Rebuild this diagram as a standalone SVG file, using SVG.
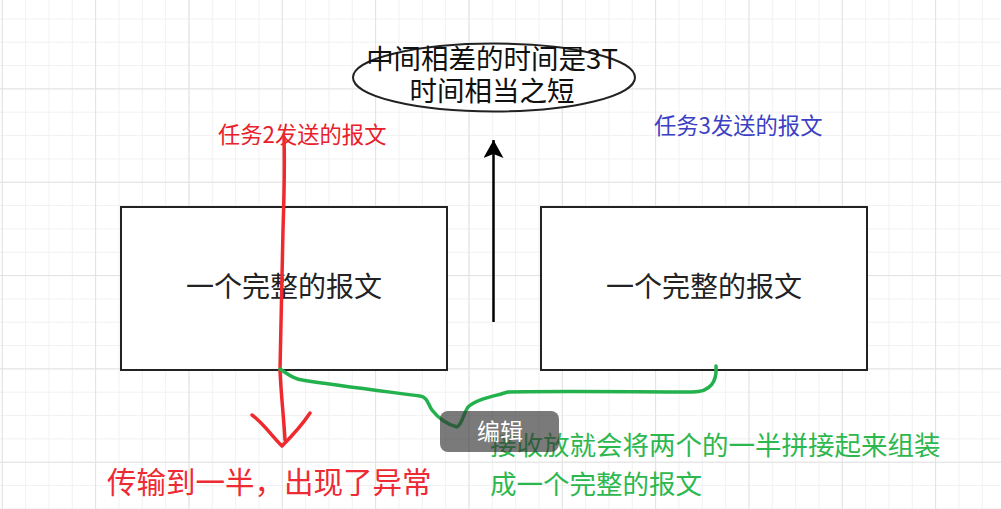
<svg xmlns="http://www.w3.org/2000/svg" width="1001" height="509" viewBox="0 0 1001 509">
<defs>
<pattern id="minor" width="23.333" height="23.333" patternUnits="userSpaceOnUse" x="1.8" y="18.4">
<path d="M0 0H23.333M0 0V23.333" fill="none" stroke="#f1f1f1" stroke-width="2"/>
</pattern>
<pattern id="major" width="93.333" height="93.333" patternUnits="userSpaceOnUse" x="1.8" y="88.4">
<path d="M0 0H93.333M0 0V93.333" fill="none" stroke="#e2e2e2" stroke-width="2"/>
</pattern>
<marker id="ah" viewBox="0 0 20 20" refX="18" refY="10" markerWidth="20" markerHeight="20" markerUnits="userSpaceOnUse" orient="auto">
<path d="M18 10L0 0L4 10L0 20Z" fill="#000"/>
</marker>
<style>
.t{font-family:"Noto Sans CJK SC","Noto Sans",sans-serif;}
.box{fill:#fff;stroke:#222;stroke-width:2;}
.bt{font-size:28px;fill:#222;text-anchor:middle;}
.hand{fill:none;stroke-linecap:round;stroke-linejoin:round;}
</style>
</defs>
<rect width="1001" height="509" fill="#fff"/>
<rect width="1001" height="509" fill="url(#minor)"/>
<rect width="1001" height="509" fill="url(#major)"/>

<g id="box-left">
<rect class="box" x="121" y="207" width="326" height="163"/>
<text class="t bt" x="284" y="297">一个完整的报文</text>
</g>
<g id="box-right">
<rect class="box" x="541" y="207" width="326" height="163"/>
<text class="t bt" x="704" y="297">一个完整的报文</text>
</g>
<g id="ellipse-note">
<ellipse cx="494" cy="77.5" rx="141" ry="34" fill="#fff" stroke="#222" stroke-width="2"/>
<text class="t" x="492" y="69" font-size="27.5" fill="#111" text-anchor="middle">中间相差的时间是3T</text>
<text class="t" x="492" y="101" font-size="27.5" fill="#111" text-anchor="middle">时间相当之短</text>
</g>
<g id="label-task2">
<text class="t" x="218" y="143" font-size="22.3" fill="#e8202a">任务2发送的报文</text>
</g>
<g id="label-task3">
<text class="t" x="654" y="134" font-size="22.3" fill="#3b3fc4">任务3发送的报文</text>
</g>

<g id="connectors">
<line x1="493.5" y1="322" x2="493.5" y2="140" stroke="#000" stroke-width="2.5" marker-end="url(#ah)"/>
<path class="hand" d="M284 137C285 170 284 200 283 230C282 280 281 330 280 370C281 395 284 420 285 440" stroke="#ee2a2e" stroke-width="3.5"/>
<path class="hand" d="M252 415C262 422 272 436 282 446C292 436 302 425 310 413" stroke="#ee2a2e" stroke-width="3.5"/>
<path class="hand" d="M280 369C288 374 293 379 302 380C340 386 390 392 420 396C428 397 428 405 432 410C438 418 448 425 457 427C462 425 464 412 468 407C478 398 496 396 508 392C560 391 640 392 690 392C712 393 717 380 716 366" stroke="#22b14c" stroke-width="3.5"/>
</g>

<g id="label-error">
<text class="t" x="107" y="493" font-size="29.5" fill="#ee2a34">传输到一半，出现了异常</text>
</g>
<g id="label-receive">
<text class="t" x="490" y="455" font-size="26.5" fill="#2db84f">接收放就会将两个的一半拼接起来组装</text>
<text class="t" x="490" y="494" font-size="26.5" fill="#2db84f">成一个完整的报文</text>
</g>
<g id="edit-button">
<rect x="440" y="411" width="119" height="41" rx="8" fill="#333" fill-opacity="0.65"/>
<text class="t" x="500" y="440" font-size="23" fill="#fff" text-anchor="middle">编辑</text>
</g>
</svg>
